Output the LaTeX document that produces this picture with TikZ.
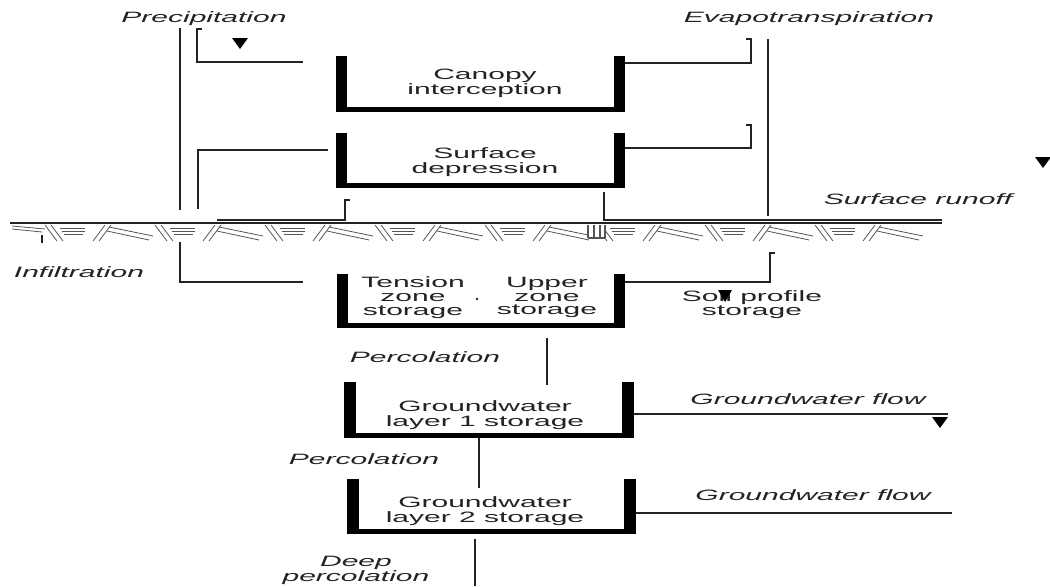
\documentclass[tikz,border=0pt]{standalone}
\usepackage{fontspec}
\setmainfont{Liberation Sans}
\usepackage{graphicx}
\definecolor{ink}{RGB}{35,35,35}
\definecolor{soilc}{RGB}{85,85,85}
\newcommand{\stx}[1]{\scalebox{2}[1]{\begin{tabular}{@{}c@{}}#1\end{tabular}}}
\begin{document}
\begin{tikzpicture}[x=0.75pt,y=-0.75pt,
  txt/.style={inner sep=0pt, text=ink, font=\fontsize{11.25}{10.2}\selectfont},
  itx/.style={inner sep=0pt, text=ink, font=\fontsize{11.25}{10.2}\selectfont\itshape},
  ln/.style={draw=ink, line width=1pt},
  soil/.style={draw=soilc, line width=0.6pt}]
\useasboundingbox (0,0) rectangle (1050,586);
\fill[white] (0,0) rectangle (1050,586);

% ---------- containers (thick U shapes) ----------
\foreach \l/\r/\t/\b/\w in {336/625/56/112/11, 336/625/133/188/11, 337/625/274/328/11, 344/634/382/438/12, 347/636/479/534/12}{
  \fill[black] (\l,\t) rectangle (\l+\w,\b);
  \fill[black] (\r-\w,\t) rectangle (\r,\b);
  \fill[black] (\l,\b-5) rectangle (\r,\b);
}

% ---------- ground surface ----------
\coordinate (g0) at (10,223); \coordinate (g1) at (942,223);
\draw[ln] (g0) -- (g1);
\begin{scope}
\clip (10,224) rectangle (942,243);
\draw[soil] (12,226) -- (45,229) (12,229) -- (42,232);
\foreach \u in {45,155,...,900}{
  \draw[soil] (\u,225) -- (\u+12,241) (\u+6,225) -- (\u+18,241);
  \draw[soil] (\u+15,228) -- (\u+40,228) (\u+17,231) -- (\u+40,231) (\u+19,234) -- (\u+38,234);
  \draw[soil] (\u+48,241) -- (\u+60,225) (\u+54,241) -- (\u+66,225);
  \draw[soil] (\u+64,227) -- (\u+108,236) (\u+62,231) -- (\u+104,240);
}
\end{scope}
\draw[ln] (42,235) -- (42,243);
\fill[white] (587,225) rectangle (605,238);
\draw[soil, line width=0.9pt] (588,225) -- (588,238) (594,225) -- (594,238) (600,225) -- (600,238) (605,225) -- (605,238) (588,238) -- (605,238);

% ---------- text ----------
\node[itx] (prec) at (204,19) {\stx{Precipitation}};
\node[itx] (evap) at (809,19) {\stx{Evapotranspiration}};
\node[itx] (runoff) at (918,201) {\stx{Surface runoff}};
\node[itx] (infil) at (79,274) {\stx{Infiltration}};
\node[itx] (perc1) at (425,359) {\stx{Percolation}};
\node[itx] (perc2) at (364,461) {\stx{Percolation}};
\node[itx] (deep) at (356,571) {\stx{Deep\\percolation}};
\node[itx] (gwf1) at (808,401) {\stx{Groundwater flow}};
\node[itx] (gwf2) at (813,497) {\stx{Groundwater flow}};
\node[txt] (soilst) at (752,305) {\stx{Soil profile\\storage}};
\node[txt] (canopy) at (485,84) {\stx{Canopy\\interception}};
\node[txt] (surfdep) at (485,163) {\stx{Surface\\depression}};
\node[txt] (tension) at (413,298) {\stx{Tension\\zone\\storage}};
\node[txt] (upper) at (547,298) {\stx{Upper\\zone\\storage}};
\node[txt] (gw1) at (485,416) {\stx{Groundwater\\layer 1 storage}};
\node[txt] (gw2) at (485,512) {\stx{Groundwater\\layer 2 storage}};
\fill[ink] (477,299) circle (1.3);

% ---------- connectors ----------
% precipitation
\coordinate (pa) at (180,28); \coordinate (pb) at (180,210);
\draw[ln] (pa) -- (pb);
\coordinate (b1a) at (202,29); \coordinate (b1b) at (197,29); \coordinate (b1c) at (197,62); \coordinate (b1d) at (303,62);
\draw[ln] (b1a) -- (b1b) -- (b1c) -- (b1d);
\coordinate (b2a) at (328,150); \coordinate (b2b) at (198,150); \coordinate (b2c) at (198,209);
\draw[ln] (b2a) -- (b2b) -- (b2c);
% infiltration
\coordinate (ia) at (180,242); \coordinate (ib) at (180,282); \coordinate (ic) at (303,282);
\draw[ln] (ia) -- (ib) -- (ic);
% surface depression outflows
\coordinate (sa) at (217,220); \coordinate (sb) at (345,220); \coordinate (sc) at (345,200); \coordinate (sd) at (350,200);
\draw[ln] (sa) -- (sb) -- (sc) -- (sd);
\coordinate (ra) at (604,192); \coordinate (rb) at (604,220); \coordinate (rc) at (942,220);
\draw[ln] (ra) -- (rb) -- (rc);
% evapotranspiration
\coordinate (e1a) at (625,63); \coordinate (e1b) at (751,63); \coordinate (e1c) at (751,39); \coordinate (e1d) at (746,39);
\draw[ln] (e1a) -- (e1b) -- (e1c) -- (e1d);
\coordinate (e2a) at (625,148); \coordinate (e2b) at (751,148); \coordinate (e2c) at (751,125); \coordinate (e2d) at (746,125);
\draw[ln] (e2a) -- (e2b) -- (e2c) -- (e2d);
\coordinate (ema) at (768,39); \coordinate (emb) at (768,216);
\draw[ln] (ema) -- (emb);
\coordinate (ja) at (625,282); \coordinate (jb) at (770,282); \coordinate (jc) at (770,253); \coordinate (jd) at (775,253);
\draw[ln] (ja) -- (jb) -- (jc) -- (jd);
% percolation
\coordinate (k1a) at (547,338); \coordinate (k1b) at (547,385);
\draw[ln] (k1a) -- (k1b);
\coordinate (k2a) at (479,438); \coordinate (k2b) at (479,488);
\draw[ln] (k2a) -- (k2b);
\coordinate (k3a) at (475,539); \coordinate (k3b) at (475,586);
\draw[ln] (k3a) -- (k3b);
% groundwater flow
\coordinate (f1a) at (634,414); \coordinate (f1b) at (948,414);
\draw[ln] (f1a) -- (f1b);
\coordinate (f2a) at (636,513); \coordinate (f2b) at (952,513);
\draw[ln] (f2a) -- (f2b);

% ---------- triangles ----------
\foreach \x/\y in {240/43, 1043/162, 940/422}{
  \fill[black] (\x-8,\y-5) -- (\x+8,\y-5) -- (\x,\y+6) -- cycle;
}
\fill[black] (718,290) -- (732,290) -- (725,302) -- cycle;
\end{tikzpicture}
\end{document}
